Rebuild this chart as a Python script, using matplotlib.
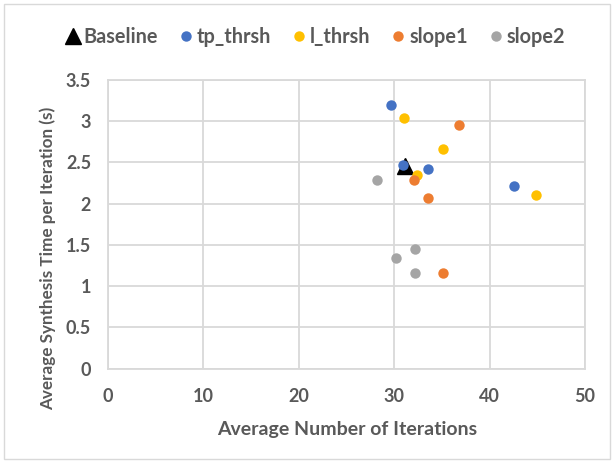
import matplotlib
matplotlib.use("Agg")
import matplotlib.pyplot as plt
import matplotlib.ticker as ticker
from matplotlib.patches import Rectangle

# data
base_x = [31.1]
base_y = [2.46]
tp_x = [29.7, 30.9, 33.5, 42.6]
tp_y = [3.20, 2.47, 2.42, 2.22]
l_x = [31.0, 35.1, 32.4, 44.9]
l_y = [3.04, 2.66, 2.35, 2.11]
s1_x = [36.8, 32.1, 33.5, 35.1]
s1_y = [2.96, 2.29, 2.07, 1.165]
s2_x = [28.2, 32.2, 30.2, 32.2]
s2_y = [2.29, 1.45, 1.34, 1.165]

txtc = "#595959"
gridc = "#D9D9D9"
fnt = "Lato"

fig = plt.figure(figsize=(6.14, 4.63), dpi=100)
ax = fig.add_axes([0.1754, 0.2037, 0.7776, 0.6235])

ax.plot(base_x, base_y, "^", color="black", ms=12, label="Baseline", zorder=3)
ax.plot(tp_x, tp_y, "o", color="#4472C4", ms=7.5, mec="none", label="tp_thrsh", zorder=3)
ax.plot(l_x, l_y, "o", color="#FFC000", ms=7.5, mec="none", label="l_thrsh", zorder=3)
ax.plot(s1_x, s1_y, "o", color="#ED7D31", ms=7.5, mec="none", label="slope1", zorder=3)
ax.plot(s2_x, s2_y, "o", color="#A5A5A5", ms=7.5, mec="none", label="slope2", zorder=3)

ax.set_xlim(0, 50)
ax.set_ylim(0, 3.5)
ax.xaxis.set_major_locator(ticker.MultipleLocator(10))
ax.yaxis.set_major_locator(ticker.MultipleLocator(0.5))
ax.yaxis.set_major_formatter(ticker.FuncFormatter(lambda v, p: "%g" % v))
ax.grid(color=gridc, lw=1.3)
ax.set_axisbelow(True)
for s in ax.spines.values():
    s.set_color(gridc)
    s.set_linewidth(1.3)
ax.tick_params(length=0, colors=txtc, labelsize=13)
ax.tick_params(axis="y", pad=12)
ax.tick_params(axis="x", pad=14)
for lab in ax.get_xticklabels() + ax.get_yticklabels():
    lab.set_fontfamily(fnt)
    lab.set_fontweight("bold")

fig.text(347.5 / 614, 1 - 429 / 463, "Average Number of Iterations", ha="center", va="center",
         color=txtc, fontsize=14, fontweight="bold", family=fnt)
fig.text(48 / 614, 1 - 258 / 463, "Average Synthesis Time per Iteration (s)", ha="center", va="center",
         rotation=90, color=txtc, fontsize=12.3, fontweight="bold", family=fnt)

leg = fig.legend(loc="center", bbox_to_anchor=(0.513, 1 - 37 / 463), ncol=5, frameon=False,
                 handletextpad=0.15, columnspacing=1.0, handlelength=0.8,
                 prop={"family": fnt, "weight": "bold", "size": 14.3})
for t in leg.get_texts():
    t.set_color(txtc)

fig.patches.append(Rectangle((4 / 614, 4 / 463), 606 / 614, 455 / 463, transform=fig.transFigure,
                             fill=False, edgecolor=gridc, lw=1.0))

fig.savefig("out.png", dpi=100)
